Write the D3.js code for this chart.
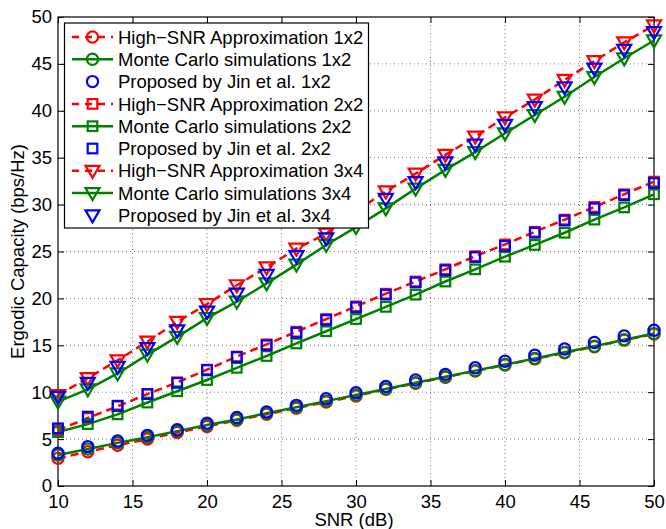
<!DOCTYPE html>
<html>
<head>
<meta charset="utf-8">
<script src="https://cdn.jsdelivr.net/npm/d3@7"></script>
<style>
  html, body { margin: 0; padding: 0; background: #fff; }
  svg text { font-family: "Liberation Sans", Arial, Helvetica, sans-serif; }
</style>
</head>
<body>
<svg id="chart" width="666" height="529"></svg>
<script>
// ---------- data ----------
const snr = [10,12,14,16,18,20,22,24,26,28,30,32,34,36,38,40,42,44,46,48,50];

const approx1x2 = [2.95,3.65,4.35,5.0,5.7,6.35,7.0,7.65,8.3,8.95,9.6,10.3,10.95,11.6,12.25,12.9,13.55,14.2,14.85,15.55,16.2];
const mc1x2     = [3.3,3.95,4.6,5.2,5.85,6.5,7.1,7.75,8.4,9.05,9.7,10.35,11.0,11.65,12.3,12.95,13.6,14.25,14.9,15.6,16.25];
const jin1x2    = [3.5,4.2,4.8,5.4,6.0,6.7,7.3,7.9,8.6,9.3,9.95,10.6,11.3,11.9,12.6,13.3,13.95,14.6,15.3,16.0,16.6];

const approx2x2 = [5.95,7.25,8.5,9.8,11.05,12.4,13.8,15.1,16.45,17.8,19.15,20.5,21.8,23.1,24.5,25.75,27.1,28.4,29.75,31.1,32.45];
const mc2x2     = [5.75,6.6,7.64,8.9,10.1,11.3,12.6,13.86,15.2,16.5,17.8,19.1,20.4,21.8,23.1,24.45,25.7,27.0,28.4,29.7,31.1];
const jin2x2    = [6.15,7.4,8.56,9.8,11.0,12.37,13.75,15.0,16.35,17.7,19.05,20.4,21.7,23.0,24.4,25.6,27.0,28.3,29.6,31.0,32.3];

const approx3x4 = [9.7,11.5,13.4,15.4,17.5,19.4,21.4,23.3,25.3,26.9,29.3,31.4,33.3,35.3,37.24,39.3,41.2,43.3,45.3,47.3,49.1];
const mc3x4     = [9.0,10.3,12.0,14.0,15.9,17.9,19.65,21.6,23.6,25.7,27.6,29.6,31.7,33.7,35.6,37.6,39.55,41.5,43.6,45.6,47.5];
const jin3x4    = [9.5,11.0,12.7,14.7,16.6,18.6,20.5,22.5,24.5,26.4,28.6,30.6,32.4,34.5,36.4,38.5,40.4,42.5,44.5,46.5,48.4];

const xTicks = [10,15,20,25,30,35,40,45,50];
const yTicks = [0,5,10,15,20,25,30,35,40,45,50];

const legendLabels = [
  "High\u2212SNR Approximation 1x2",
  "Monte Carlo simulations 1x2",
  "Proposed by Jin et al. 1x2",
  "High\u2212SNR Approximation 2x2",
  "Monte Carlo simulations 2x2",
  "Proposed by Jin et al. 2x2",
  "High\u2212SNR Approximation 3x4",
  "Monte Carlo simulations 3x4",
  "Proposed by Jin et al. 3x4"
];

const xLabel = "SNR (dB)";
const yLabel = "Ergodic Capacity (bps/Hz)";

// ---------- series config ----------
const RED = "#ff0000", GREEN = "#008000", BLUE = "#0000ff";
const series = [
  {values: approx1x2, color: RED,   line: "dash",  marker: "circle"},
  {values: mc1x2,     color: GREEN, line: "solid", marker: "circle"},
  {values: jin1x2,    color: BLUE,  line: "none",  marker: "circle"},
  {values: approx2x2, color: RED,   line: "dash",  marker: "square"},
  {values: mc2x2,     color: GREEN, line: "solid", marker: "square"},
  {values: jin2x2,    color: BLUE,  line: "none",  marker: "square"},
  {values: approx3x4, color: RED,   line: "dash",  marker: "tri"},
  {values: mc3x4,     color: GREEN, line: "solid", marker: "tri"},
  {values: jin3x4,    color: BLUE,  line: "none",  marker: "tri"}
];
series.forEach((s, i) => s.label = legendLabels[i]);

// ---------- layout ----------
const svg = d3.select("#chart");
const pL = 58, pR = 654, pT = 17, pB = 486;
const x = d3.scaleLinear().domain([10, 50]).range([pL, pR]);
const y = d3.scaleLinear().domain([0, 50]).range([pB, pT]);

// grid
const grid = svg.append("g");
grid.selectAll("line.gx").data(xTicks.slice(1, -1)).enter().append("line")
  .attr("x1", d => x(d)).attr("x2", d => x(d)).attr("y1", pT).attr("y2", pB)
  .attr("stroke", "#7a7a7a").attr("stroke-width", 1).attr("stroke-dasharray", "1,3");
grid.selectAll("line.gy").data(yTicks.slice(1, -1)).enter().append("line")
  .attr("x1", pL).attr("x2", pR).attr("y1", d => y(d)).attr("y2", d => y(d))
  .attr("stroke", "#7a7a7a").attr("stroke-width", 1).attr("stroke-dasharray", "1,3");

// axes (ticks inward on all sides)
const fontSize = 18.5;
const axB = svg.append("g").attr("transform", `translate(0,${pB})`)
  .call(d3.axisBottom(x).tickValues(xTicks).tickSize(-6).tickPadding(8.5).tickFormat(d3.format("d")));
const axT = svg.append("g").attr("transform", `translate(0,${pT})`)
  .call(d3.axisTop(x).tickValues(xTicks).tickSize(-6).tickFormat(""));
const axL = svg.append("g").attr("transform", `translate(${pL},0)`)
  .call(d3.axisLeft(y).tickValues(yTicks).tickSize(-6).tickPadding(6).tickFormat(d3.format("d")));
const axR = svg.append("g").attr("transform", `translate(${pR},0)`)
  .call(d3.axisRight(y).tickValues(yTicks).tickSize(-6).tickFormat(""));
[axB, axT, axL, axR].forEach(a => {
  a.select(".domain").remove();
  a.selectAll("line").attr("stroke", "#000").attr("stroke-width", 1);
  a.selectAll("text").attr("fill", "#000").style("font-size", fontSize + "px")
    .style("font-family", '"Liberation Sans", Arial, sans-serif');
});
svg.append("rect").attr("x", pL).attr("y", pT).attr("width", pR - pL).attr("height", pB - pT)
  .attr("fill", "none").attr("stroke", "#000").attr("stroke-width", 1.2);

// marker drawing
function drawMarker(g, type, cx, cy, color) {
  if (type === "circle") {
    g.append("circle").attr("cx", cx).attr("cy", cy).attr("r", 5.6)
      .attr("fill", "none").attr("stroke", color).attr("stroke-width", 2.2);
  } else if (type === "square") {
    g.append("rect").attr("x", cx - 4.8).attr("y", cy - 4.8).attr("width", 9.6).attr("height", 9.6)
      .attr("fill", "none").attr("stroke", color).attr("stroke-width", 2.2);
  } else {
    g.append("path").attr("d", `M${cx - 7},${cy - 5}L${cx + 7},${cy - 5}L${cx},${cy + 7}Z`)
      .attr("fill", "none").attr("stroke", color).attr("stroke-width", 2.2).attr("stroke-linejoin", "miter");
  }
}

// series
const plot = svg.append("g");
const lineGen = d3.line().x((d, i) => x(snr[i])).y(d => y(d));
series.forEach(s => {
  const g = plot.append("g");
  if (s.line !== "none") {
    g.append("path").datum(s.values).attr("d", lineGen)
      .attr("fill", "none").attr("stroke", s.color).attr("stroke-width", 2.5)
      .attr("stroke-dasharray", s.line === "dash" ? "8,5" : null);
  }
  s.values.forEach((v, i) => drawMarker(g, s.marker, x(snr[i]), y(v), s.color));
});

// legend
const lg = svg.append("g");
const lgX = 64.5, lgY = 23, lgW = 304, lgH = 205, rowH = 22.3, row0 = 37;
lg.append("rect").attr("x", lgX).attr("y", lgY).attr("width", lgW).attr("height", lgH)
  .attr("fill", "#fff").attr("stroke", "#000").attr("stroke-width", 1.2);
series.forEach((s, i) => {
  const cy = row0 + i * rowH;
  if (s.line !== "none") {
    lg.append("line").attr("x1", 72).attr("x2", 113).attr("y1", cy).attr("y2", cy)
      .attr("stroke", s.color).attr("stroke-width", 2.5)
      .attr("stroke-dasharray", s.line === "dash" ? "7,6" : null);
  }
  drawMarker(lg, s.marker, 92.5, cy, s.color);
  lg.append("text").attr("x", 118).attr("y", cy).attr("dy", "0.36em")
    .style("font-size", fontSize + "px").attr("fill", "#000").text(s.label);
});

// axis labels
svg.append("text").attr("x", (pL + pR) / 2 - 2).attr("y", 526)
  .attr("text-anchor", "middle").style("font-size", fontSize + "px").text(xLabel);
svg.append("text").attr("transform", `translate(17,${(pT + pB) / 2}) rotate(-90)`)
  .attr("dy", "0.36em").attr("text-anchor", "middle").style("font-size", fontSize + "px").text(yLabel);
</script>
</body>
</html>
